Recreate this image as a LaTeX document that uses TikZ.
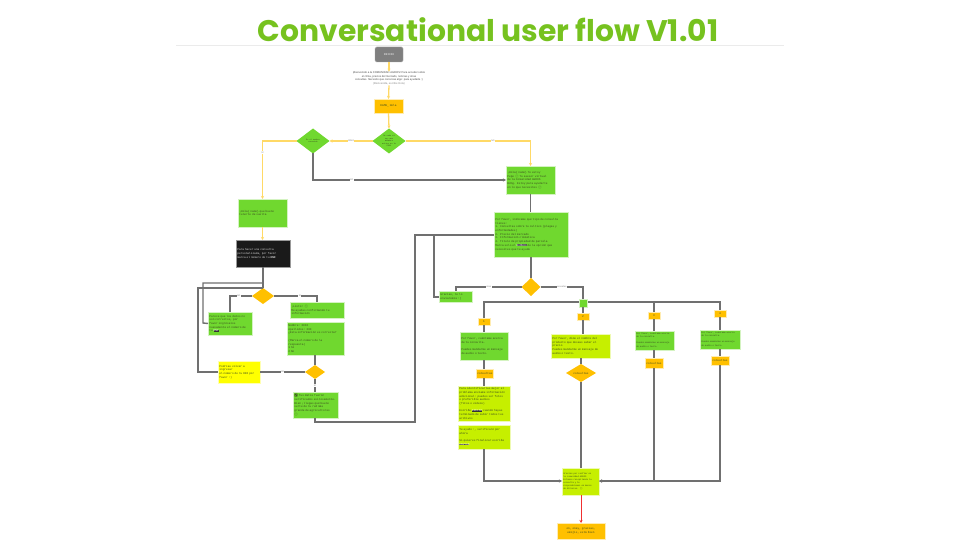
\documentclass[tikz,border=0pt]{standalone}
\usepackage{fontspec}
\setmainfont{Liberation Sans}
\setmonofont{Liberation Mono}
\newfontfamily\titlefont{Poppins}
\newfontfamily\emo{Noto Emoji}
\usetikzlibrary{shapes.geometric,arrows.meta,calc}
\definecolor{titlegreen}{HTML}{76C21F}
\definecolor{leaf}{HTML}{70D82F}
\definecolor{lime}{HTML}{C6EF00}
\definecolor{amber}{HTML}{FFC000}
\definecolor{sun}{HTML}{FFFF00}
\definecolor{night}{HTML}{1A1A1A}
\definecolor{slate}{HTML}{7F7F7F}
\definecolor{wire}{HTML}{707070}
\definecolor{goldwire}{HTML}{FFD966}
\definecolor{inktext}{HTML}{3A4A20}
\definecolor{redwire}{HTML}{F03030}
\newcommand{\hlx}[1]{{\setlength{\fboxsep}{0pt}\colorbox{black!80}{\textcolor{white}{#1}}}}
\newcommand{\smy}{{\emo 🙂}}
\tikzset{
  x=1pt,y=-1pt,
  boxbase/.style={rectangle,inner sep=1.2pt,outer sep=0pt,draw=white!70!leaf,line width=.4pt,font=\ttfamily\fontsize{2.8}{3.7}\selectfont,text=inktext,align=left},
  leafbox/.style={boxbase,fill=leaf},
  limebox/.style={boxbase,fill=lime,draw=white!70!lime},
  amberbox/.style={boxbase,fill=amber,draw=white!70!amber,align=center},
  sunbox/.style={boxbase,fill=sun,draw=white!70!sun},
  nightbox/.style={boxbase,fill=night,draw=black!40,text=white!85!black},
  slatebox/.style={boxbase,fill=slate,draw=black!35,rounded corners=1.5pt,text=white,align=center},
  gem/.style={diamond,inner sep=0pt,outer sep=0pt,fill=#1,font=\ttfamily\fontsize{2}{2.5}\selectfont,text=inktext,align=center},
  gemtext/.style={font=\ttfamily\fontsize{1.9}{2.4}\selectfont,text=inktext,align=center,inner sep=0pt},
  wireline/.style={draw=wire,line width=1.4pt},
  thinwire/.style={line width=1.1pt},
  goldline/.style={draw=goldwire,line width=1.3pt},
  redline/.style={draw=redwire,line width=.8pt},
  tip/.style={-{Stealth[length=3pt,width=3pt]}},
  edgelabel/.style={font=\fontsize{2.2}{2.6}\selectfont,text=black!50,fill=white,inner sep=.3pt},
}
\newcommand{\bx}[7]{%
  \pgfmathsetmacro{\bxw}{#5-#3}\pgfmathsetmacro{\bxh}{#6-#4}%
  \pgfmathsetmacro{\bxtw}{#5-#3-2.8}%
  \node[#2,minimum width=\bxw pt,minimum height=\bxh pt,text width=\bxtw pt] (#1) at ({(#3+#5)/2},{(#4+#6)/2}) {#7};}
\newcommand{\gm}[6]{%
  \node[gem=#2,minimum width=#5pt,minimum height=#6pt] (#1) at (#3,#4) {};}
\begin{document}
\begin{tikzpicture}
\useasboundingbox (0,0) rectangle (960,540);
\fill[white] (0,0) rectangle (960,540);
\coordinate (ruleL) at (176,45.5);
\coordinate (ruleR) at (784,45.5);
\draw[black!8,line width=1pt] (ruleL) -- (ruleR);
\node[font=\titlefont\bfseries\fontsize{29.8}{32}\selectfont,text=titlegreen,inner sep=0pt] (title) at (488,30) {Conversational user flow V1.01};

\bx{inicio}{slatebox}{375}{47}{403}{62}{INICIO}
\node[font=\fontsize{2.7}{3.6}\selectfont,text=black!70,align=center,inner sep=0pt] (intro) at (389,78.5) {¡Bienvenido a la COMUNIDAD AGROS! Para acceder sobre\\el clima, precios del mercado, noticias y otras\\consultas. Necesito que conozcas algo: para ayudarte :)\\\textcolor{black!45}{(Bienvenida, escribe Hola)}};
\bx{dame}{amberbox}{374}{99}{403}{113}{DAME\_ Hola}
\gm{dq}{leaf}{389}{141}{33}{25}
\node[gemtext] (dqt) at (dq) {Se sabe si\\soy mas\\miembro\\activo en la\\CBOX};
\gm{dn}{leaf}{313}{141}{33}{25}
\node[gemtext] (dnt) at (dn) {Es el nombre\\conocido};
\bx{hola}{leafbox}{506}{166}{555}{194}{¡Hola\{ name\} Te estoy\\Pepe \smy{} Tu asesor virtual\\de la Comunidad AGROS\\Bdng. Estoy para ayudarte\\en lo que necesites \smy}
\bx{bueno}{leafbox}{238}{199}{287}{227}{¡Hola\{ name\} que bueno\\tenerte de vuelta}
\bx{favor}{leafbox}{494}{212}{568}{257}{Por favor, indícame qué tipo de consulta\\tienes:\\1. Consultas sobre tu cultivo (plagas y\\enfermedades)\\2. Precio del mercado\\3. Información climática\\4. Título de propiedad de parcela\\* Marca solo el \hlx{NÚMERO} de la opción que\\necesites que te ayude}
\bx{blackb}{nightbox}{236}{240}{290}{267}{Para hacer una consulta\\personalizada, por favor\\marca el número de tu \hlx{DNI}}
\gm{d1}{amber}{263}{296}{22}{16}
\bx{dato}{leafbox}{208}{312}{252}{335}{Parece que los datos no\\son correctos, por\\favor ingrésalos\\nuevamente el número de\\tu \hlx{DNI}}
\bx{conf}{leafbox}{290}{302}{344}{318}{¡Listo! \smy\\Me ayudas confirmando tu\\información}
\bx{info}{leafbox}{287}{322}{344}{355}{Nombre: XXXX\\Apellidos: XXX\\¿Esta información es correcta?\\[3.7pt](Marca el número de la\\respuesta)\\1 Sí\\2 No}
\bx{retry}{sunbox}{218}{361}{260}{383}{Podrías volver a ingresar\\el número de tu DNI por\\favor :)}
\gm{d2}{amber}{315}{372}{20}{14}
\bx{ok}{leafbox}{293}{392}{338}{418}{{\emo ✅} Tus datos fueron\\verificados exitosamente.\\Bien ¡llegas qué bueno\\verte de tu red más\\grande de agricultores\\\smy}
\bx{small}{leafbox}{439}{291}{472}{302}{Gracias, te lo\\enviaremos :)}
\gm{d3}{amber}{531}{287}{19}{18}
\bx{o1}{amberbox}{478}{318}{490}{325}{1}
\bx{o2}{amberbox}{577}{313}{589}{320}{2}
\bx{o3}{amberbox}{648}{312}{660}{319}{3}
\bx{o4}{amberbox}{714}{310}{726}{317}{4}
\bx{c1}{leafbox}{460}{332}{508}{360}{Por favor, cuéntame acerca\\de tu consulta.\\[3.7pt]Puedes mandarme un mensaje\\de audio o texto.}
\bx{c2}{limebox}{551}{334}{610}{358}{Por favor, dime el nombre del\\producto que deseas saber el\\precio\\Puedes mandarme un mensaje de\\audio o texto.}
\bx{c3}{leafbox}{635}{331}{674}{350}{\fontsize{2.2}{3}\selectfont Por favor, cuéntame acerca\\de tu consulta.\\[3pt]Puedes mandarme un mensaje\\de audio o texto.}
\bx{c4}{leafbox}{700}{330}{740}{349}{\fontsize{2.2}{3}\selectfont Por favor, cuéntame acerca\\de tu consulta.\\[3pt]Puedes mandarme un mensaje\\de audio o texto.}
\bx{q1}{amberbox}{476}{369}{493}{378}{consultas}
\gm{q2}{amber}{581}{373}{30}{18}
\node[gemtext,font=\ttfamily\fontsize{2.8}{3.7}\selectfont] (q2t) at (q2) {consultas};
\bx{q3}{amberbox}{645}{358}{663}{368}{consultas}
\bx{q4}{amberbox}{711}{356}{729}{365}{consultas}
\bx{more}{limebox}{458}{386}{510}{421}{Para identificarlas mejor el\\problema envíame información\\adicional: puedes ser fotos\\o preferible audios\\(fotos o videos)\\[3.7pt]Escribe \hlx{ENVIAR} cuando hayas\\terminado de subir todos tus\\archivos}
\bx{help}{limebox}{458}{425}{510}{449}{Te ayudo :, verificaré por\\ahora\\[3.7pt]Si quieres finalizar escribe\\\hlx{ENVIAR}}
\bx{final}{limebox}{562}{468}{599}{495}{\fontsize{2.2}{3}\selectfont Gracias por confiar en\\la comunidad AGROS\\Estamos recopilando tu\\consulta y te\\responderemos en menos\\de 48 horas. \smy}
\bx{bye}{amberbox}{557}{523}{605}{539}{ok, okay, gracias,\\emojis, está bien}

% gold connectors
\begin{scope}[goldline,tip]
\draw (inicio.south) -- (intro.north);
\draw (intro.south) -- (dame.north);
\draw (dame.south) -- (dq.north);
\draw (dq.west) -- node[edgelabel]{SÍ/NO} (dn.east);
\draw (dq.east) -| node[edgelabel,pos=.35]{NO} (hola.north);
\draw (dn.west) -| node[edgelabel,pos=.6]{SÍ} (bueno.north);
\draw (bueno.south) -- (bueno.south |- blackb.north);
\end{scope}

% grey connectors
\begin{scope}[wireline]
\draw[tip] (dn.south) |- node[edgelabel,pos=.6]{NO} (hola.west);
\draw (hola.south) -- (hola.south |- favor.north);
\draw (blackb.south) -- (blackb.south |- d1.north);
\coordinate (a1) at (263,283);
\coordinate (a2) at (263,288);
\draw (a1) -- (203,283) -- (203,323) -- (dato.west);
\draw (a2) -- (198,288) -- (198,372) -- (retry.west);
\draw[thinwire] (d1.west) -| node[edgelabel,pos=.3]{NO} (dato.north);
\draw[thinwire] (d1.east) -| node[edgelabel,pos=.3]{SÍ} (conf.north);
\draw (info.south -| d2.north) -- (d2.north);
\draw[thinwire] (d2.west) -- node[edgelabel]{NO} (retry.east);
\draw[thinwire] (d2.south) -- node[edgelabel]{SÍ} (ok.north -| d2.south);
\coordinate (b1) at (315,418);
\coordinate (b2) at (434,235);
\draw (b1) -- (315,422) -- (415,422) -- (415,235) -- (favor.west |- b2);
\coordinate (b3) at (434,297);
\draw (b2) -- (b3) -- (small.west |- b3);
\draw (favor.south) -- (favor.south |- d3.north);
\coordinate (l1) at (456,287);
\coordinate (l2) at (583,287);
\draw[thinwire] (d3.west) -- node[edgelabel]{otros} (l1) -- (l1 |- small.north);
\draw[thinwire] (d3.east) -- node[edgelabel]{consultas} (l2) -- (l2 |- 0,299);
\coordinate (r1) at (484,302);
\coordinate (r3) at (654,302);
\coordinate (r4) at (720,302);
\draw[thinwire] (o1.north -| r1) -- (r1) -- (r4) -- (o4.north -| r4);
\draw[thinwire] (r3) -- (o3.north -| r3);
\draw[thinwire] (o1.south -| r1) -- (c1.north -| r1);
\draw[thinwire] (o2.south) -- (c2.north -| o2.south);
\draw[thinwire] (o3.south -| r3) -- (c3.north -| r3);
\draw[thinwire] (o4.south -| r4) -- (c4.north -| r4);
\draw[thinwire] (c1.south -| r1) -- (q1.north -| r1);
\draw[thinwire] (c2.south -| q2.north) -- (q2.north);
\draw[thinwire] (c3.south -| r3) -- (q3.north -| r3);
\draw[thinwire] (c4.south -| r4) -- (q4.north -| r4);
\draw[thinwire] (q1.south -| r1) -- (more.north -| r1);
\coordinate (h1) at (484,481);
\draw[tip,thinwire] (help.south -| h1) -- (h1) -- (final.west |- h1);
\draw[thinwire] (q2.south) -- (final.north -| q2.south);
\coordinate (h3) at (654,481);
\coordinate (h4) at (720,481);
\draw[tip,thinwire] (q3.south -| h3) -- (h3) -- (final.east |- h3);
\draw[tip,thinwire] (q4.south -| h4) -- (h4) -- (final.east |- h4);
\end{scope}
\bx{hub}{leafbox}{579}{299}{587}{307}{}
\draw[wireline,thinwire] (hub.south) -- (o2.north);
\begin{scope}[redline,tip]
\draw (final.south -| bye.north) -- (bye.north);
\end{scope}
\end{tikzpicture}
\end{document}
